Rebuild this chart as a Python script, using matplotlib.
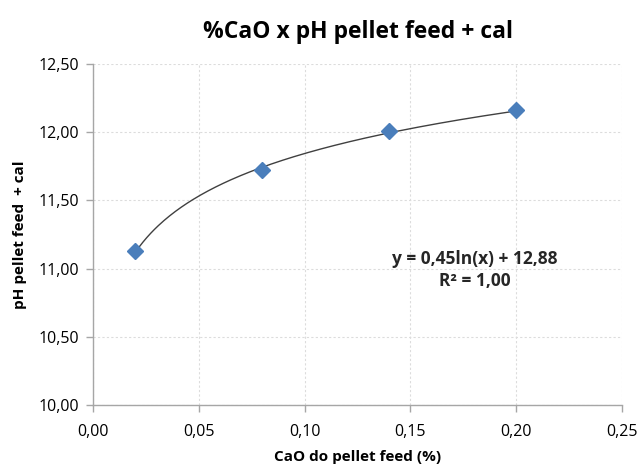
import matplotlib
matplotlib.use("Agg")
import matplotlib.pyplot as plt
import numpy as np
from matplotlib.ticker import FuncFormatter, MultipleLocator

# CaO content (%) and measured pH
cao = [0.02, 0.08, 0.14, 0.20]
ph = [11.13, 11.72, 12.01, 12.16]

# logarithmic trendline coefficients: y = a*ln(x) + b
a_coef = 0.45
b_coef = 12.88
r2 = 1.00

plt.rcParams["font.family"] = ["Open Sans", "DejaVu Sans"]


def comma(v, pos=None):
    return f"{v:.2f}".replace(".", ",")


fig = plt.figure(figsize=(6.4, 4.7), dpi=100)
ax = fig.add_axes([0.1453, 0.1383, 0.8267, 0.7255])

# trendline over the data range
xs = np.linspace(min(cao), max(cao), 200)
ax.plot(xs, a_coef * np.log(xs) + b_coef, color="#404040", lw=1.0, zorder=3)

# data points
ax.plot(cao, ph, linestyle="none", marker="D", markersize=8.5,
        color="#4A7EBB", markeredgecolor="#4A7EBB", zorder=4)

ax.set_xlim(0, 0.25)
ax.set_ylim(10, 12.5)
ax.xaxis.set_major_locator(MultipleLocator(0.05))
ax.yaxis.set_major_locator(MultipleLocator(0.5))
ax.xaxis.set_major_formatter(FuncFormatter(comma))
ax.yaxis.set_major_formatter(FuncFormatter(comma))

ax.grid(True, color="#DCDCDC", linestyle=(0, (2, 2)), linewidth=0.8)
ax.set_axisbelow(True)
for side in ["top", "right"]:
    ax.spines[side].set_visible(False)
for side in ["left", "bottom"]:
    ax.spines[side].set_color("#A6A6A6")
    ax.spines[side].set_linewidth(1.0)
ax.tick_params(axis="both", colors="#A6A6A6", length=5, width=1.0,
               labelcolor="#000000", labelsize=11.5)
ax.tick_params(axis="x", pad=9)
ax.tick_params(axis="y", pad=5)

ax.set_title("%CaO x pH pellet feed + cal", fontsize=16.5, fontweight="bold", pad=19)
ax.set_xlabel("CaO do pellet feed (%)", fontsize=11, fontweight="bold", labelpad=7)
ax.set_ylabel("pH pellet feed  + cal", fontsize=11, fontweight="bold", labelpad=8)

eq = f"y = {comma(a_coef)}ln(x) + {comma(b_coef)}\nR² = {comma(r2)}"
ax.text(0.1805, 10.99, eq, ha="center", va="center", fontsize=12.5,
        fontweight="bold", color="#262626", linespacing=1.35)

fig.savefig("out.png", dpi=100)
